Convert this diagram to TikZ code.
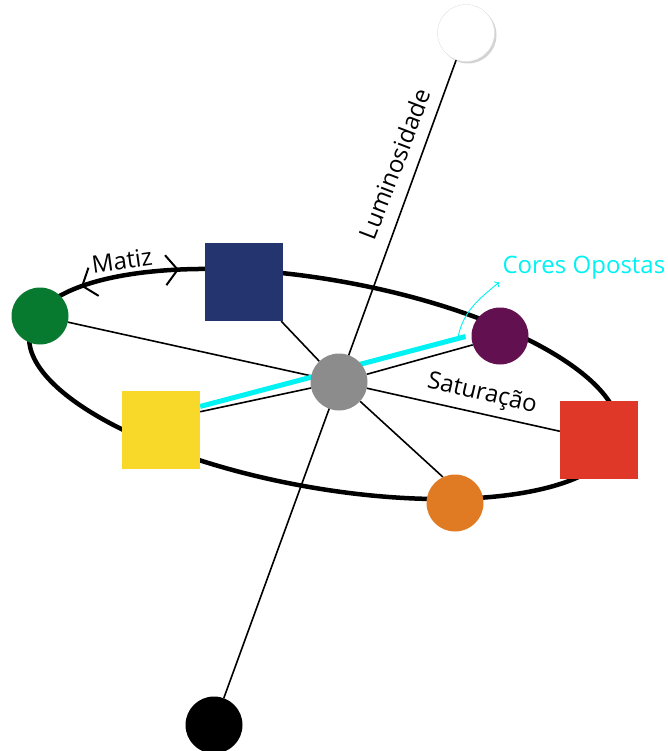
\documentclass[tikz,border=0pt]{standalone}
\usepackage{fontspec}
\setmainfont{Open Sans}
\usepackage{tikz}
\usetikzlibrary{shapes,calc,backgrounds,shadows,arrows.meta}
\definecolor{verde}{HTML}{077A2F}
\definecolor{azul}{HTML}{24346E}
\definecolor{amarelo}{HTML}{F8D92A}
\definecolor{roxo}{HTML}{631050}
\definecolor{vermelho}{HTML}{E03828}
\definecolor{laranja}{HTML}{E07B24}
\definecolor{cinza}{HTML}{8C8C8C}
\definecolor{ciano}{HTML}{00F2F2}

\begin{document}
\begin{tikzpicture}[x=1pt,y=-1pt,
  bola/.style={circle,minimum size=57pt,inner sep=0pt},
  caixa/.style={rectangle,minimum size=78pt,inner sep=0pt},
  raio/.style={draw=black,line width=1.6pt},
  rotulo/.style={font=\fontsize{24pt}{28pt}\selectfont}]
  \useasboundingbox (0,0) rectangle (668,751);

  % Cores.
  \node[bola,fill=white,draw=black!12,
    drop shadow={shadow xshift=2pt,shadow yshift=-2pt,opacity=0.35}] at (466,33) (branco) {};
  \node[bola,fill=black] at (214,725) (preto) {};
  \node[bola,fill=cinza] at (339,382) (cinza) {};
  \node[bola,fill=verde] at (40,316) (verde) {};
  \node[caixa,fill=azul] at (244,282) (azul) {};
  \node[caixa,fill=amarelo] at (161,430) (amarelo) {};
  \node[bola,fill=roxo] at (500,336) (roxo) {};
  \node[caixa,fill=vermelho] at (599,440) (vermelho) {};
  \node[bola,fill=laranja] at (455,503) (laranja) {};

  \begin{scope}[on background layer]
    % Matiz.
    \begin{scope}[shift={(324,384)},rotate=-10.1]
      \path[draw=black,line width=4.5pt] (0,0) ellipse (299pt and 104pt);
      \path[draw=black,line width=3pt,
        {Straight Barb[length=12pt,width=30pt,line width=2pt]}-{Straight Barb[length=12pt,width=30pt,line width=2pt]}]
        (123:299pt and 104pt) arc[start angle=123,end angle=149,x radius=299pt,y radius=104pt];
    \end{scope}
    % Luminosidade.
    \path[draw=black,line width=1.6pt] (branco) -- (preto);
    % Saturacao.
    \path[raio] (cinza) -- (verde);
    \path[raio] (cinza) -- (azul);
    \path[raio] (cinza) -- (amarelo.25);
    \path[raio] (cinza) -- (roxo.198);
    \path[raio] (cinza) -- (vermelho);
    \path[raio] (cinza) -- (laranja.115);
    % Opostas.
    \path[draw=ciano,line width=5pt,shorten >=6pt] (amarelo.31) -- (roxo.178);
  \end{scope}

  % Textos.
  \node[rotulo,rotate=8] at (122,261) (matiz) {Matiz};
  \node[rotulo,rotate=69] at (395,164) (lum) {Luminosidade};
  \node[rotulo,rotate=-13] at (482,394) (sat) {Saturação};
  \node[rotulo,text=ciano,anchor=base west] at (499,273) (cores) {Cores Opostas};
  \coordinate (ponta) at (458,337);
  \path[draw=ciano,line width=0.9pt,-{To}] (ponta) to[out=78,in=220] (cores.south west);
\end{tikzpicture}
\end{document}
